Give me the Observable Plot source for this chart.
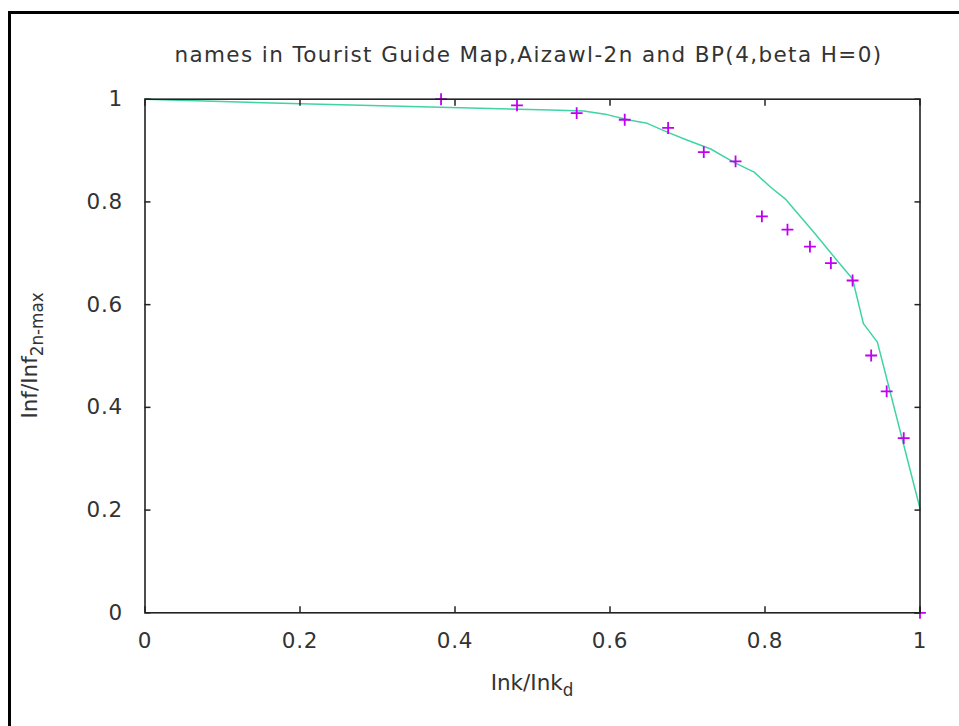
<!DOCTYPE html>
<html>
<head>
<meta charset="utf-8">
<script src="https://cdn.jsdelivr.net/npm/d3@7"></script>
<script src="https://cdn.jsdelivr.net/npm/@observablehq/plot@0.6"></script>
<style>
  html, body { margin: 0; padding: 0; background: #fff; }
  #wrap { position: relative; width: 959px; height: 726px; overflow: hidden; background: #fff; }
  #border { position: absolute; left: 8px; top: 11px; right: -10px; bottom: -10px; border-left: 3px solid #000; border-top: 3px solid #000; pointer-events: none; }
  svg { font-family: "DejaVu Sans", sans-serif; }
</style>
</head>
<body>
<div id="wrap"><div id="border"></div></div>
<script>
// Fitted curve (teal line)
const lineX = [0, 0.201, 0.523, 0.566, 0.596, 0.626, 0.648, 0.674, 0.700, 0.730, 0.760, 0.786, 0.807, 0.826, 0.863, 0.893, 0.913, 0.927, 0.945, 1.0];
const lineY = [1, 0.991, 0.979, 0.977, 0.970, 0.959, 0.953, 0.936, 0.920, 0.903, 0.877, 0.858, 0.829, 0.806, 0.741, 0.686, 0.650, 0.563, 0.527, 0.203];
// Measured points (magenta +)
const pointsX = [0.382, 0.480, 0.557, 0.619, 0.675, 0.721, 0.762, 0.796, 0.829, 0.858, 0.885, 0.913, 0.937, 0.957, 0.979, 1.0];
const pointsY = [1.0, 0.988, 0.973, 0.960, 0.944, 0.897, 0.879, 0.772, 0.746, 0.713, 0.681, 0.647, 0.501, 0.431, 0.340, 0.0];
// Ticks
const xTicks = [0, 0.2, 0.4, 0.6, 0.8, 1];
const yTicks = [0, 0.2, 0.4, 0.6, 0.8, 1];
const titleText = "names in Tourist Guide Map,Aizawl-2n and BP(4,beta H=0)";

const lineData = lineX.map((x, i) => ({x, y: lineY[i]}));
const pointData = pointsX.map((x, i) => ({x, y: pointsY[i]}));
const fmt = d => d === 0 ? "0" : d === 1 ? "1" : String(d);

const W = 959, H = 726;
const mL = 144.5, mT = 98.7, mR = 39.5, mB = 113.7;
const fs = 21.5;
const textColor = "#333";

const chart = Plot.plot({
  width: W, height: H,
  marginLeft: mL, marginTop: mT, marginRight: mR, marginBottom: mB,
  style: {fontFamily: "DejaVu Sans, sans-serif", fontSize: fs + "px", color: "#222", background: "transparent"},
  x: {domain: [0, 1]},
  y: {domain: [0, 1]},
  marks: [
    Plot.line(lineData, {x: "x", y: "y", stroke: "#3fd3a6", strokeWidth: 1.5}),
    Plot.dot(pointData, {x: "x", y: "y", symbol: "plus", r: 3.9, stroke: "#c000f0", strokeWidth: 1.8}),
    // inward ticks on all four sides
    Plot.axisX({anchor: "bottom", ticks: xTicks, tickSize: -6, text: null, label: null, stroke: "#222", strokeWidth: 1.5}),
    Plot.axisX({anchor: "top", ticks: xTicks, tickSize: -6, text: null, label: null, stroke: "#222", strokeWidth: 1.5}),
    Plot.axisY({anchor: "left", ticks: yTicks, tickSize: -6, text: null, label: null, stroke: "#222", strokeWidth: 1.5}),
    Plot.axisY({anchor: "right", ticks: yTicks, tickSize: -6, text: null, label: null, stroke: "#222", strokeWidth: 1.5}),
    // tick labels
    Plot.axisX({anchor: "bottom", ticks: xTicks, tickSize: 0, tickPadding: 20, tickFormat: fmt, label: null, fontSize: fs, fill: textColor, className: "ticklab"}),
    Plot.axisY({anchor: "left", ticks: yTicks, tickSize: 0, tickPadding: 22, tickFormat: fmt, label: null, fontSize: fs, fill: textColor, className: "ticklab"}),
    Plot.frame({stroke: "#222", strokeWidth: 1.6}),
    Plot.text([titleText], {text: d => d, frameAnchor: "top", dx: -4, dy: -37, fontSize: fs, fill: textColor, lineAnchor: "bottom"})
  ]
});

document.getElementById("wrap").insertBefore(chart, document.getElementById("border"));

// wider gnuplot-like spacing
d3.select(chart).selectAll("text").filter(function() { return this.textContent === titleText; }).style("letter-spacing", "1.4px");
d3.select(chart).selectAll(".ticklab text").style("letter-spacing", "0.8px");

// Axis titles with subscripts
const svg = d3.select(chart);
const cx = mL + (W - mL - mR) / 2;
const cy = mT + (H - mT - mB) / 2;
const xl = svg.append("text")
  .attr("x", cx).attr("y", H - 36)
  .attr("text-anchor", "middle")
  .attr("font-size", fs).attr("fill", textColor);
xl.append("tspan").text("Ink/Ink");
xl.append("tspan").attr("font-size", fs * 0.78).attr("dy", 6).text("d");

const yl = svg.append("text")
  .attr("transform", `translate(37,${cy}) rotate(-90)`)
  .attr("text-anchor", "middle")
  .attr("font-size", fs).attr("fill", textColor);
yl.append("tspan").text("Inf/Inf");
yl.append("tspan").attr("font-size", fs * 0.78).attr("dy", 6).text("2n-max");
</script>
</body>
</html>
